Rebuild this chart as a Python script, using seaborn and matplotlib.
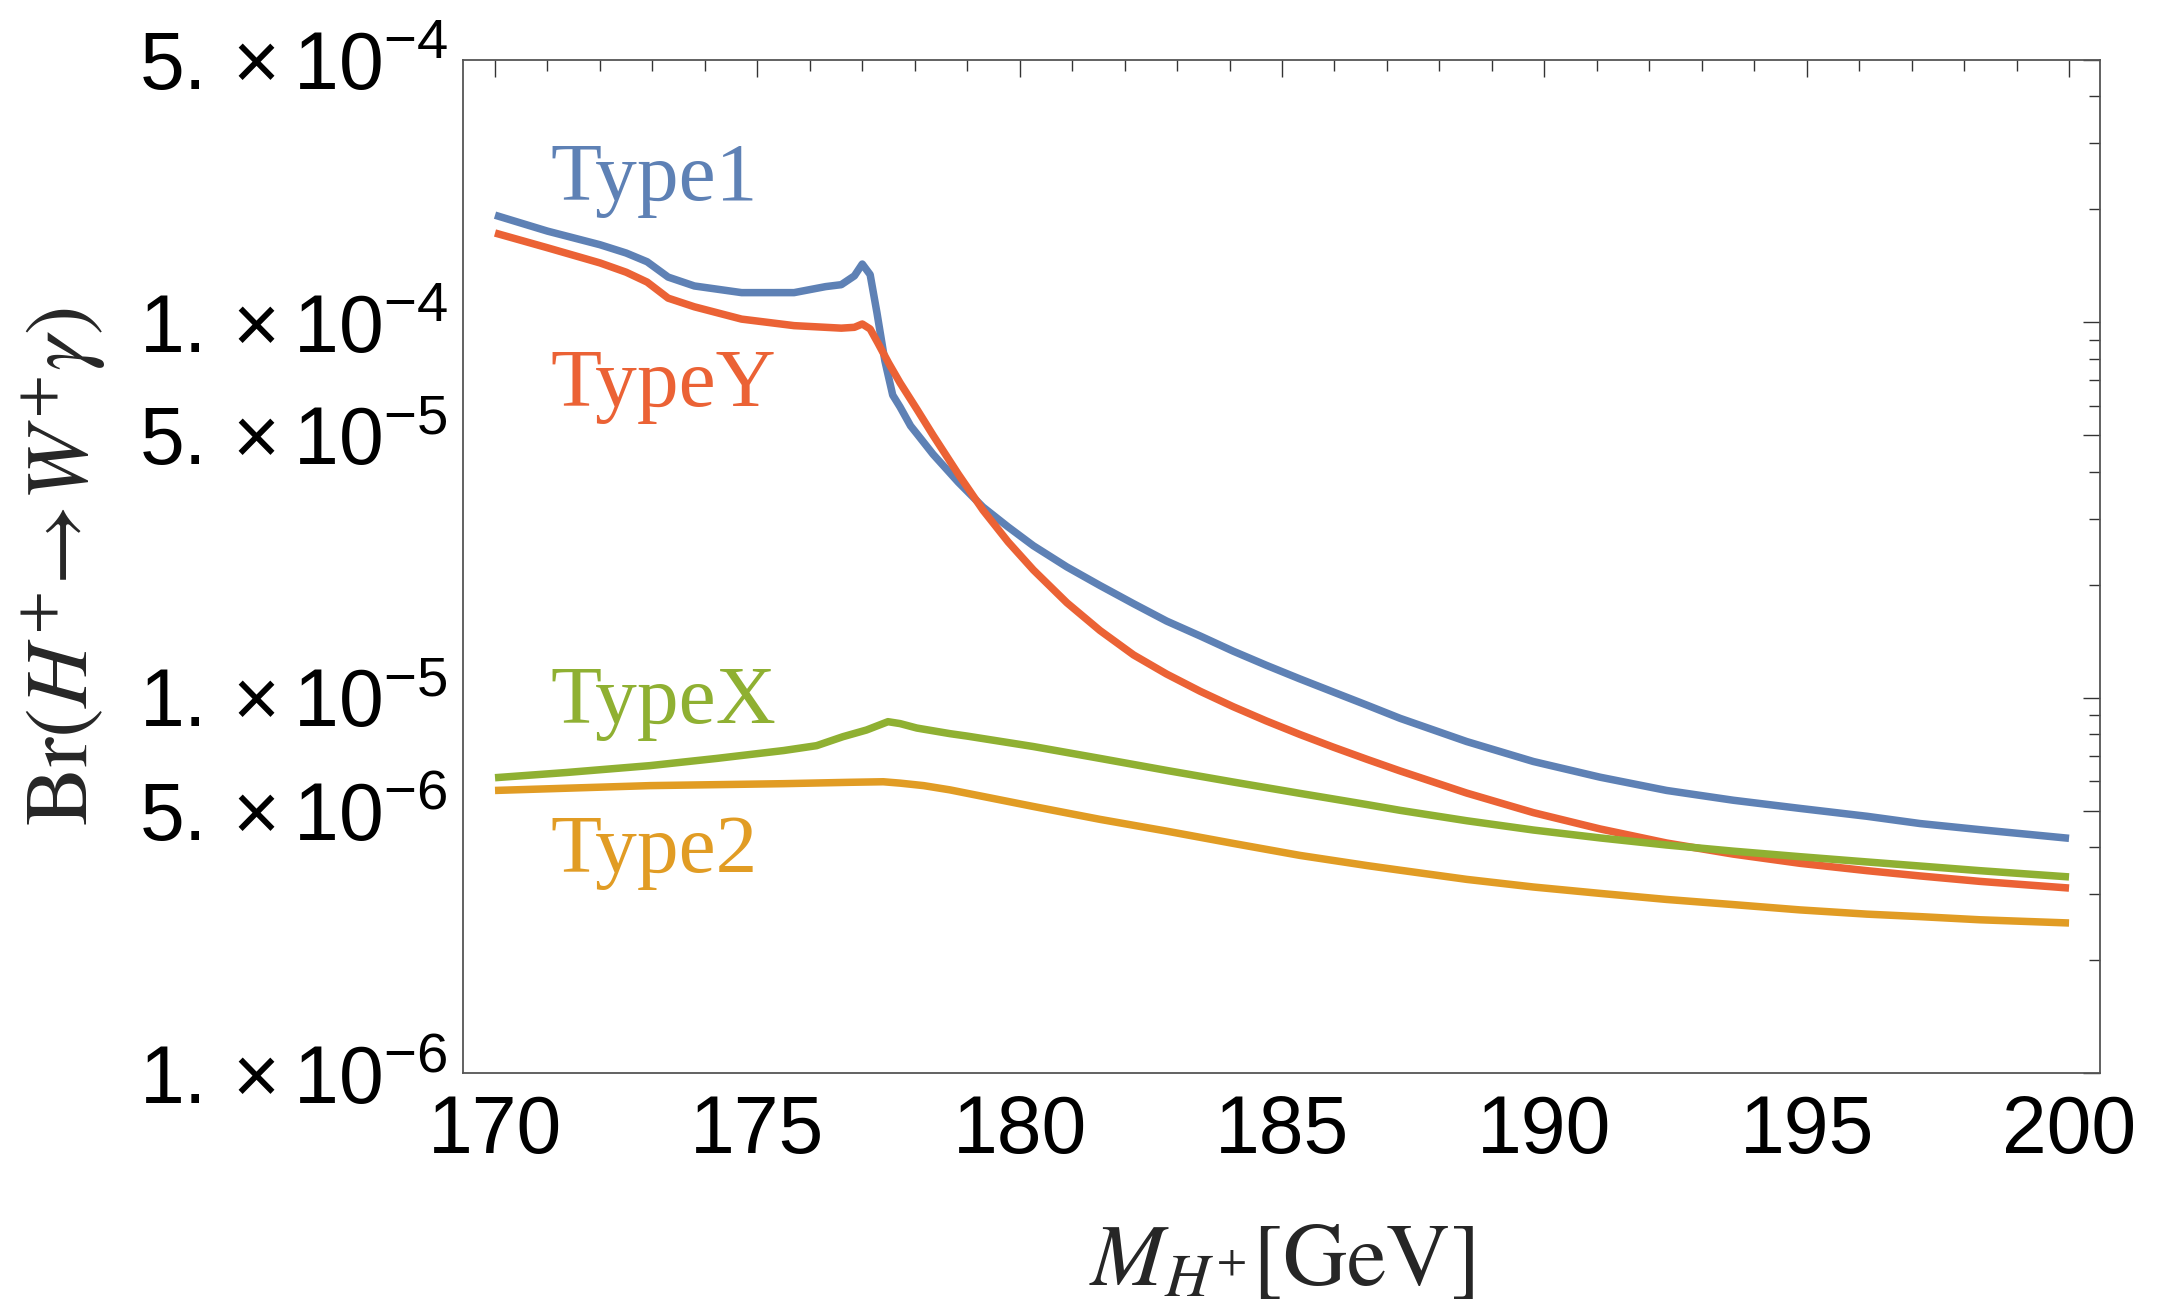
import numpy as np
import pandas as pd
import matplotlib
matplotlib.use("Agg")
import matplotlib.pyplot as plt
import matplotlib.ticker as mticker
import seaborn as sns

# ---------------- data ----------------
mass_type1 = [170.0, 171.0, 172.0, 172.5, 172.9, 173.3, 173.8, 174.7, 175.7, 176.3, 176.6,
              176.85, 177.0, 177.15, 177.28, 177.43, 177.58, 177.72, 177.92, 178.04, 178.35,
              178.83, 179.3, 179.78, 180.26, 180.9, 181.53, 182.17, 182.8, 183.44, 184.07,
              184.7, 185.34, 185.98, 186.62, 187.25, 188.52, 189.79, 191.06, 192.33, 193.6,
              194.87, 196.15, 197.16, 198.3, 200.0]
br_type1 = [1.93e-4, 1.75e-4, 1.61e-4, 1.53e-4, 1.45e-4, 1.32e-4, 1.25e-4, 1.20e-4, 1.20e-4, 1.245e-4, 1.26e-4,
            1.33e-4, 1.43e-4, 1.34e-4, 1.06e-4, 7.9e-5, 6.4e-5, 5.95e-5, 5.3e-5, 5.05e-5, 4.45e-5,
            3.75e-5, 3.22e-5, 2.85e-5, 2.54e-5, 2.23e-5, 1.99e-5, 1.78e-5, 1.60e-5, 1.46e-5, 1.33e-5,
            1.22e-5, 1.122e-5, 1.035e-5, 9.55e-6, 8.81e-6, 7.64e-6, 6.76e-6, 6.14e-6, 5.66e-6, 5.33e-6,
            5.07e-6, 4.83e-6, 4.62e-6, 4.45e-6, 4.22e-6]

mass_typeY = [170.0, 171.0, 172.0, 172.5, 172.9, 173.3, 173.8, 174.7, 175.7, 176.6, 176.85,
              177.0, 177.15, 177.3, 177.5, 177.72, 178.04, 178.35, 178.83, 179.3, 179.78,
              180.26, 180.9, 181.53, 182.17, 182.8, 183.44, 184.07, 184.7, 185.34, 185.98,
              186.62, 187.25, 188.52, 189.79, 191.06, 192.33, 193.6, 194.87, 196.15, 197.16,
              198.3, 200.0]
br_typeY = [1.73e-4, 1.58e-4, 1.44e-4, 1.36e-4, 1.28e-4, 1.16e-4, 1.10e-4, 1.02e-4, 9.8e-5, 9.65e-5, 9.7e-5,
            9.9e-5, 9.6e-5, 8.8e-5, 7.8e-5, 6.9e-5, 5.87e-5, 5.0e-5, 3.94e-5, 3.16e-5, 2.60e-5,
            2.19e-5, 1.79e-5, 1.51e-5, 1.30e-5, 1.156e-5, 1.04e-5, 9.46e-6, 8.67e-6, 7.98e-6, 7.38e-6,
            6.85e-6, 6.38e-6, 5.57e-6, 4.94e-6, 4.47e-6, 4.10e-6, 3.83e-6, 3.62e-6, 3.46e-6, 3.35e-6,
            3.24e-6, 3.11e-6]

mass_typeX = [170.0, 171.37, 172.95, 174.23, 175.5, 176.13, 176.63, 177.08, 177.49, 177.72,
              178.04, 178.67, 179.0, 180.26, 181.53, 182.8, 184.07, 185.34, 186.62, 187.25,
              188.52, 189.79, 191.06, 192.33, 193.6, 194.87, 196.15, 197.16, 198.3, 200.0]
br_typeX = [6.12e-6, 6.32e-6, 6.59e-6, 6.89e-6, 7.23e-6, 7.45e-6, 7.87e-6, 8.2e-6, 8.63e-6, 8.53e-6,
            8.3e-6, 8.02e-6, 7.9e-6, 7.41e-6, 6.89e-6, 6.40e-6, 5.96e-6, 5.56e-6, 5.19e-6, 5.01e-6,
            4.70e-6, 4.44e-6, 4.23e-6, 4.05e-6, 3.90e-6, 3.77e-6, 3.65e-6, 3.56e-6, 3.46e-6, 3.33e-6]

mass_type2 = [170.0, 172.95, 175.5, 176.77, 177.4, 177.72, 178.17, 178.67, 180.26, 181.53,
              182.8, 184.07, 185.34, 186.62, 187.25, 188.52, 189.79, 191.06, 192.33, 193.6,
              194.87, 196.15, 197.16, 198.3, 200.0]
br_type2 = [5.66e-6, 5.83e-6, 5.9e-6, 5.95e-6, 5.97e-6, 5.92e-6, 5.83e-6, 5.68e-6, 5.13e-6, 4.74e-6,
            4.41e-6, 4.09e-6, 3.80e-6, 3.57e-6, 3.47e-6, 3.28e-6, 3.13e-6, 3.01e-6, 2.90e-6, 2.81e-6,
            2.72e-6, 2.65e-6, 2.61e-6, 2.56e-6, 2.51e-6]

series_names = ["Type1", "TypeY", "TypeX", "Type2"]
series_colors = ["#5E81B5", "#EB6235", "#8FB032", "#E19C24"]
label_values = [2.12e-4, 5.98e-5, 8.58e-6, 3.44e-6]
label_mass = 171.05

x_tick_values = [170, 175, 180, 185, 190, 195, 200]
x_tick_labels = ["170", "175", "180", "185", "190", "195", "200"]
y_tick_values = [1e-6, 5e-6, 1e-5, 5e-5, 1e-4, 5e-4]
y_tick_labels = [r"$1.\times10^{-6}$", r"$5.\times10^{-6}$", r"$1.\times10^{-5}$",
                 r"$5.\times10^{-5}$", r"$1.\times10^{-4}$", r"$5.\times10^{-4}$"]

# ---------------- styling ----------------
sns.set_theme(style="white")
plt.rcParams["font.family"] = ["Liberation Sans", "DejaVu Sans"]
plt.rcParams["mathtext.fontset"] = "custom"
plt.rcParams["mathtext.rm"] = "Liberation Sans"
plt.rcParams["mathtext.it"] = "Liberation Sans:italic"
plt.rcParams["mathtext.bf"] = "Liberation Sans:bold"

frames = []
for name, xs, ys in [("Type1", mass_type1, br_type1), ("TypeY", mass_typeY, br_typeY),
                     ("TypeX", mass_typeX, br_typeX), ("Type2", mass_type2, br_type2)]:
    frames.append(pd.DataFrame({"mass": xs, "br": ys, "type": name}))
df = pd.concat(frames, ignore_index=True)

fig = plt.figure(figsize=(21.57, 13.12), dpi=100)
ax = fig.add_axes([463 / 2157, 1 - 1073 / 1312, (2100 - 463) / 2157, (1073 - 60) / 1312])

sns.lineplot(data=df, x="mass", y="br", hue="type", hue_order=series_names,
             palette=dict(zip(series_names, series_colors)), linewidth=5.4,
             legend=False, ax=ax, estimator=None, sort=True)
for line in ax.get_lines():
    line.set_solid_joinstyle("round")
    line.set_solid_capstyle("butt")

ax.set_yscale("log")
ax.set_xlim(169.39, 200.59)
ax.set_ylim(1e-6, 5e-4)

ax.xaxis.set_major_locator(mticker.FixedLocator(x_tick_values))
ax.xaxis.set_minor_locator(mticker.MultipleLocator(1))
ax.set_xticklabels(x_tick_labels)
ax.yaxis.set_major_locator(mticker.FixedLocator(y_tick_values))
ax.yaxis.set_minor_locator(mticker.LogLocator(base=10, subs=np.arange(2, 10), numticks=20))
ax.yaxis.set_minor_formatter(mticker.NullFormatter())
ax.set_yticklabels(y_tick_labels)

ax.tick_params(which="both", direction="in", top=True, right=True, colors="#333333",
               width=1.0)
ax.tick_params(which="major", length=12.5)
ax.tick_params(which="minor", length=8)
ax.tick_params(axis="x", which="major", labelsize=58, pad=15, labelcolor="black")
ax.tick_params(axis="y", which="major", labelsize=58, pad=11, labelcolor="black")

for sp in ax.spines.values():
    sp.set_visible(True)
    sp.set_color("#555555")
    sp.set_linewidth(1.3)

ax.set_xlabel(r"$M_{H^{+}}[\mathrm{GeV}]$", fontsize=64, math_fontfamily="stix")
ax.set_ylabel(r"$\mathrm{Br}(H^{+}\!\rightarrow\! W^{+}\gamma)$", fontsize=64,
              math_fontfamily="stix")
ax.xaxis.set_label_coords(0.5, -0.145)
ax.yaxis.set_label_coords(-0.217, 0.5)

for name, color, val in zip(series_names, series_colors, label_values):
    ax.text(label_mass, val, name, color=color, fontsize=60,
            family=["Liberation Serif", "DejaVu Serif"], ha="left", va="baseline")

fig.savefig("out.png", dpi=100)
